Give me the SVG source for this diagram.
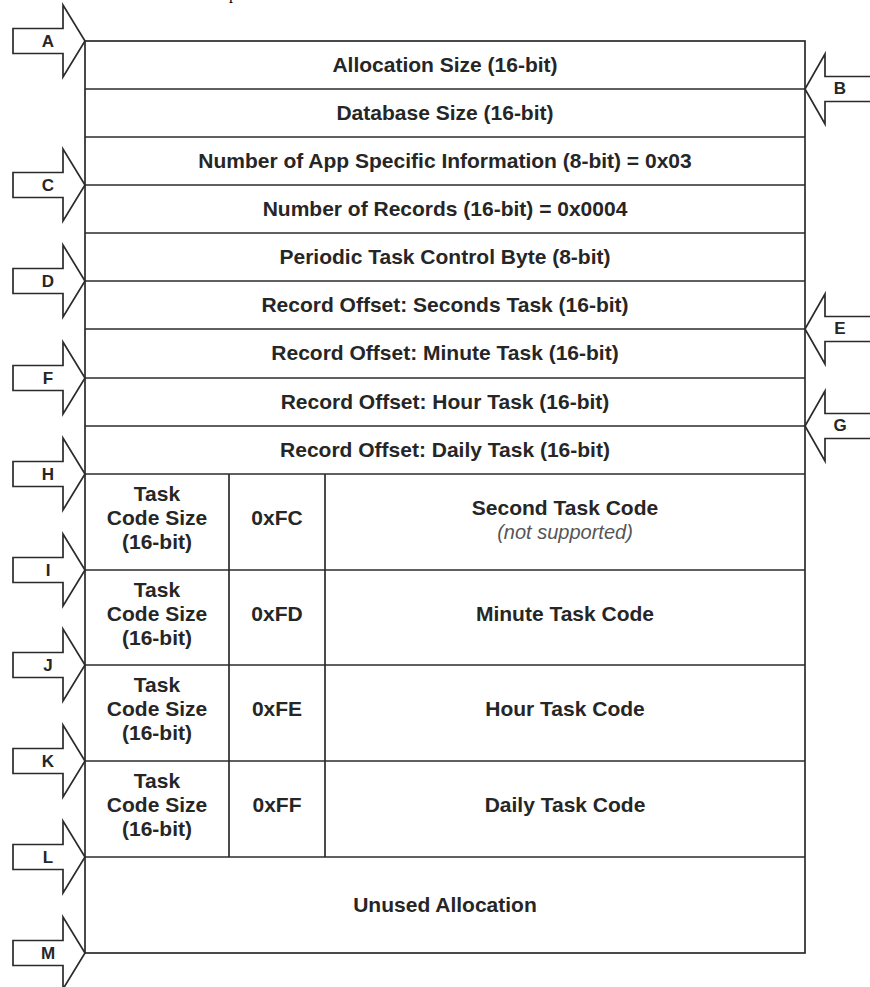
<svg xmlns="http://www.w3.org/2000/svg" width="870" height="987" viewBox="0 0 870 987">
<style>
.ln{stroke:#2b2b2b;stroke-width:1.7;fill:none}
.cell{stroke:#2b2b2b;stroke-width:1.7;fill:#fff}
.t{font-family:"Liberation Sans",Arial,sans-serif;font-weight:bold;font-size:21px;fill:#262626;text-anchor:middle}
.it{font-family:"Liberation Sans",Arial,sans-serif;font-style:italic;font-size:20px;fill:#555;text-anchor:middle}
.lbl{font-family:"Liberation Sans",Arial,sans-serif;font-weight:bold;font-size:17px;fill:#262626;text-anchor:middle}
.arr{stroke:#2b2b2b;stroke-width:1.7;fill:#fff;stroke-linejoin:miter}
</style>
<rect width="870" height="987" fill="#fff"/>
<text x="229" y="-1" font-family="Liberation Serif,serif" font-size="16" fill="#000">p</text>

<g id="table">
<rect class="cell" x="85" y="41" width="720" height="912"/>
<g id="row-alloc"><line class="ln" x1="85" y1="89" x2="805" y2="89"/><text class="t" x="445" y="71.5">Allocation Size (16-bit)</text></g>
<g id="row-dbsize"><line class="ln" x1="85" y1="137" x2="805" y2="137"/><text class="t" x="445" y="119.5">Database Size (16-bit)</text></g>
<g id="row-appinfo"><line class="ln" x1="85" y1="185" x2="805" y2="185"/><text class="t" x="445" y="167.5">Number of App Specific Information (8-bit) = 0x03</text></g>
<g id="row-numrec"><line class="ln" x1="85" y1="233" x2="805" y2="233"/><text class="t" x="445" y="215.5">Number of Records (16-bit) = 0x0004</text></g>
<g id="row-ctrl"><line class="ln" x1="85" y1="281" x2="805" y2="281"/><text class="t" x="445" y="263.5">Periodic Task Control Byte (8-bit)</text></g>
<g id="row-off-sec"><line class="ln" x1="85" y1="329" x2="805" y2="329"/><text class="t" x="445" y="311.5">Record Offset: Seconds Task (16-bit)</text></g>
<g id="row-off-min"><line class="ln" x1="85" y1="378" x2="805" y2="378"/><text class="t" x="445" y="360">Record Offset: Minute Task (16-bit)</text></g>
<g id="row-off-hour"><line class="ln" x1="85" y1="426" x2="805" y2="426"/><text class="t" x="445" y="408.5">Record Offset: Hour Task (16-bit)</text></g>
<g id="row-off-day"><line class="ln" x1="85" y1="474" x2="805" y2="474"/><text class="t" x="445" y="456.5">Record Offset: Daily Task (16-bit)</text></g>
<g id="cols"><line class="ln" x1="229" y1="474" x2="229" y2="857"/><line class="ln" x1="325" y1="474" x2="325" y2="857"/></g>
<g id="row-task-sec"><line class="ln" x1="85" y1="570" x2="805" y2="570"/>
<text class="t" x="157" y="501">Task</text><text class="t" x="157" y="525">Code Size</text><text class="t" x="157" y="549">(16-bit)</text>
<text class="t" x="277" y="525">0xFC</text>
<text class="t" x="565" y="515">Second Task Code</text><text class="it" x="565" y="539">(not supported)</text></g>
<g id="row-task-min"><line class="ln" x1="85" y1="665" x2="805" y2="665"/>
<text class="t" x="157" y="596.5">Task</text><text class="t" x="157" y="620.5">Code Size</text><text class="t" x="157" y="644.5">(16-bit)</text>
<text class="t" x="277" y="620.5">0xFD</text>
<text class="t" x="565" y="620.5">Minute Task Code</text></g>
<g id="row-task-hour"><line class="ln" x1="85" y1="761" x2="805" y2="761"/>
<text class="t" x="157" y="692">Task</text><text class="t" x="157" y="716">Code Size</text><text class="t" x="157" y="740">(16-bit)</text>
<text class="t" x="277" y="716">0xFE</text>
<text class="t" x="565" y="716">Hour Task Code</text></g>
<g id="row-task-day"><line class="ln" x1="85" y1="857" x2="805" y2="857"/>
<text class="t" x="157" y="788">Task</text><text class="t" x="157" y="812">Code Size</text><text class="t" x="157" y="836">(16-bit)</text>
<text class="t" x="277" y="812">0xFF</text>
<text class="t" x="565" y="812">Daily Task Code</text></g>
<g id="row-unused"><text class="t" x="445" y="911.5">Unused Allocation</text></g>
</g>

<g id="pointers">
<g id="ptr-A" transform="translate(0,41)"><path class="arr" d="M13,-12.5H63V-36L85,0L63,36V12.5H13Z"/><text class="lbl" x="48" y="6">A</text></g>
<g id="ptr-C" transform="translate(0,185)"><path class="arr" d="M13,-12.5H63V-36L85,0L63,36V12.5H13Z"/><text class="lbl" x="48" y="6">C</text></g>
<g id="ptr-D" transform="translate(0,281)"><path class="arr" d="M13,-12.5H63V-36L85,0L63,36V12.5H13Z"/><text class="lbl" x="48" y="6">D</text></g>
<g id="ptr-F" transform="translate(0,378)"><path class="arr" d="M13,-12.5H63V-36L85,0L63,36V12.5H13Z"/><text class="lbl" x="48" y="6">F</text></g>
<g id="ptr-H" transform="translate(0,474)"><path class="arr" d="M13,-12.5H63V-36L85,0L63,36V12.5H13Z"/><text class="lbl" x="48" y="6">H</text></g>
<g id="ptr-I" transform="translate(0,570)"><path class="arr" d="M13,-12.5H63V-36L85,0L63,36V12.5H13Z"/><text class="lbl" x="48" y="6">I</text></g>
<g id="ptr-J" transform="translate(0,665)"><path class="arr" d="M13,-12.5H63V-36L85,0L63,36V12.5H13Z"/><text class="lbl" x="48" y="6">J</text></g>
<g id="ptr-K" transform="translate(0,761)"><path class="arr" d="M13,-12.5H63V-36L85,0L63,36V12.5H13Z"/><text class="lbl" x="48" y="6">K</text></g>
<g id="ptr-L" transform="translate(0,857)"><path class="arr" d="M13,-12.5H63V-36L85,0L63,36V12.5H13Z"/><text class="lbl" x="48" y="6">L</text></g>
<g id="ptr-M" transform="translate(0,953)"><path class="arr" d="M13,-12.5H63V-36L85,0L63,36V12.5H13Z"/><text class="lbl" x="48" y="6">M</text></g>
<g id="ptr-B" transform="translate(0,89)"><path class="arr" d="M873,-12.5H825V-35L805,0L825,35V12.5H873"/><text class="lbl" x="840" y="5">B</text></g>
<g id="ptr-E" transform="translate(0,329)"><path class="arr" d="M873,-12.5H825V-35L805,0L825,35V12.5H873"/><text class="lbl" x="840" y="5">E</text></g>
<g id="ptr-G" transform="translate(0,426)"><path class="arr" d="M873,-12.5H825V-35L805,0L825,35V12.5H873"/><text class="lbl" x="840" y="5">G</text></g>
</g>
</svg>
